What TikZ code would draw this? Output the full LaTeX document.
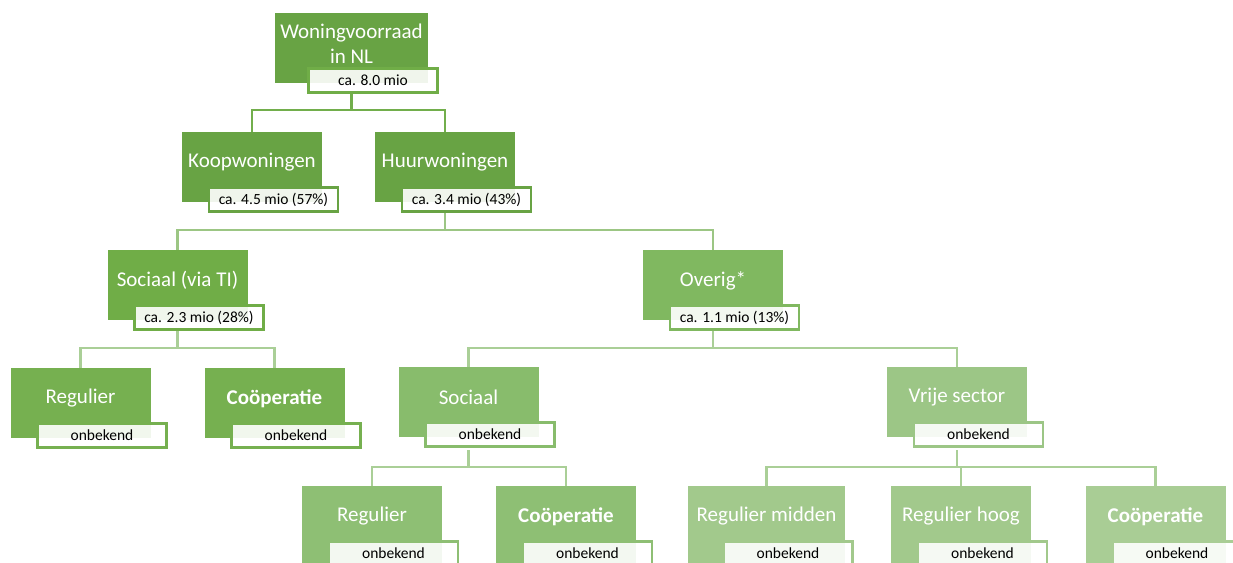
\documentclass[tikz,border=0pt]{standalone}
\usepackage{fontspec}
\setmainfont{Carlito}
\begin{document}
\begin{tikzpicture}[x=1pt,y=-1pt,
  box/.style={rectangle, inner sep=0pt, minimum width=140pt, minimum height=70pt},
  boxtext/.style={text=white, font=\fontsize{21}{25}\selectfont, align=center, inner sep=0pt},
  lab/.style={rectangle, inner sep=0pt, minimum width=129pt, minimum height=24pt, line width=2.2pt,
     fill=white, fill opacity=0.9, text opacity=1, text=black, font=\fontsize{15.5}{18}\selectfont},
  conA/.style={draw=cA, line width=2.6pt},
  conB/.style={draw=cB, line width=2.6pt},
  conC/.style={draw=cC, line width=2.6pt},
]
\definecolor{g1}{HTML}{68A344}
\definecolor{g2}{HTML}{70AD47}
\definecolor{g3}{HTML}{80B860}
\definecolor{g4}{HTML}{76B050}
\definecolor{g5}{HTML}{88BC6C}
\definecolor{g6}{HTML}{9CC686}
\definecolor{g7}{HTML}{8EBF74}
\definecolor{g8}{HTML}{A2C98C}
\definecolor{g9}{HTML}{A9CD95}
\definecolor{cA}{HTML}{72AE4C}
\definecolor{cB}{HTML}{9CC684}
\definecolor{cC}{HTML}{AACF97}
\useasboundingbox (0,0) rectangle (1233,562);
\clip (0,0) rectangle (1233,562);

\newcommand\mkent[6]{%
  \node[box, anchor=north, fill=#4, #5] (#1) at (#2,#3) {};
  \node[boxtext] (#1T) at ([yshift=-30.5pt]#1.north) {#6};
}
\newcommand\mklab[4]{%
  \node[lab, draw=#3] (#1L) at ([xshift=21.5pt,yshift=-67.5pt]#1.north) {#4};
}

% boxes
\mkent{root}{351.5}{13}{g1}{minimum width=153pt}{Woningvoorraad\\in NL}
\mkent{koop}{252}{132}{g1}{}{Koopwoningen}
\mkent{huur}{445}{132}{g1}{}{Huurwoningen}
\mkent{socti}{177.5}{250}{g2}{}{Sociaal (via TI)}
\mkent{overig}{713}{250}{g3}{}{Overig*}
\mkent{regA}{80.5}{368}{g4}{}{Regulier}
\mkent{coopA}{274.5}{368}{g4}{}{\textbf{Coöperatie}}
\mkent{soc}{468.5}{367}{g5}{}{Sociaal}
\mkent{vrij}{957}{367}{g6}{}{Vrije sector}
\mkent{regB}{372}{486}{g7}{minimum height=80pt}{Regulier}
\mkent{coopB}{566}{486}{g7}{minimum height=80pt}{\textbf{Coöperatie}}
\mkent{regM}{766.5}{486}{g8}{minimum width=157pt, minimum height=80pt}{Regulier midden}
\mkent{regH}{961}{486}{g8}{minimum height=80pt}{Regulier hoog}
\mkent{coopC}{1155.5}{486}{g9}{minimum height=80pt}{\textbf{Coöperatie}}

% connectors
\coordinate (b1) at (0,110);
\coordinate (b2) at (0,230);
\coordinate (b3) at (0,348);
\coordinate (b4) at (0,467);
\draw[conA] (root|-{(0,93)}) -- (root|-b1) -| (koop.north);
\draw[conA] (root|-b1) -| (huur.north);
\draw[conB] (huur|-{(0,212)}) -- (huur|-b2) -| (socti.north);
\draw[conB] (huur|-b2) -| (overig.north);
\draw[conC] (socti|-{(0,331)}) -- (socti|-b3) -| (regA.north);
\draw[conC] (socti|-b3) -| (coopA.north);
\draw[conC] (overig|-{(0,331)}) -- (overig|-b3) -| (soc.north);
\draw[conC] (overig|-b3) -| (vrij.north);
\draw[conC] (soc|-{(0,450)}) -- (soc|-b4) -| (regB.north);
\draw[conC] (soc|-b4) -| (coopB.north);
\draw[conC] (vrij|-{(0,450)}) -- (vrij|-b4) -| (regM.north);
\draw[conC] (vrij|-b4) -| (regH.north);
\draw[conC] (vrij|-b4) -| (coopC.north);

% labels
\mklab{root}{80}{g2}{ca. 8.0 mio}
\mklab{koop}{199}{g1}{ca. 4.5 mio (57\%)}
\mklab{huur}{199}{g1}{ca. 3.4 mio (43\%)}
\mklab{socti}{319}{g2}{ca. 2.3 mio (28\%)}
\mklab{overig}{319}{g3}{ca. 1.1 mio (13\%)}
\mklab{regA}{436}{g4}{onbekend}
\mklab{coopA}{436}{g4}{onbekend}
\mklab{soc}{437}{g5}{onbekend}
\mklab{vrij}{437}{g6}{onbekend}
\mklab{regB}{553}{g7}{onbekend}
\mklab{coopB}{553}{g7}{onbekend}
\mklab{regM}{553}{g8}{onbekend}
\mklab{regH}{553}{g8}{onbekend}
\mklab{coopC}{553}{g9}{onbekend}
\end{tikzpicture}
\end{document}
